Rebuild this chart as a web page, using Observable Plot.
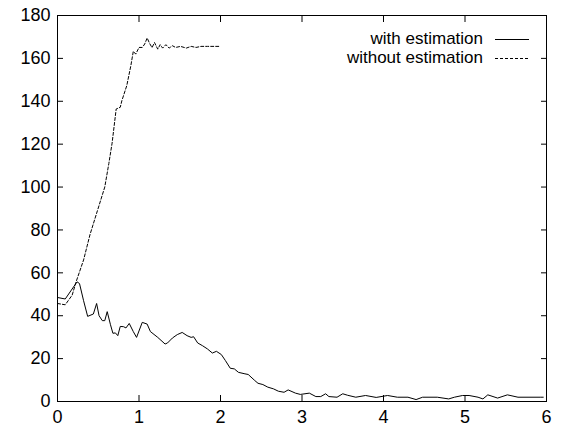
<!DOCTYPE html>
<html>
<head>
<meta charset="utf-8">
<script src="https://cdn.jsdelivr.net/npm/d3@7"></script>
<script src="https://cdn.jsdelivr.net/npm/@observablehq/plot@0.6"></script>
<style>
  html, body { margin: 0; padding: 0; background: #fff; }
  #wrap { position: relative; width: 565px; height: 434px; font-family: "Liberation Sans", Arial, Helvetica, sans-serif; }
  #legend { position: absolute; top: 29px; right: 36px; font-size: 17px; color: #000; }
  #legend .row { display: flex; align-items: center; justify-content: flex-end; height: 19px; line-height: 19px; }
  #legend svg { margin-left: 12px; display: block; }
</style>
</head>
<body>
<div id="wrap"></div>
<script>
// Series: "with estimation" (solid)
const withT = [
  0, 0.095, 0.24, 0.27, 0.32, 0.37, 0.44, 0.48, 0.51, 0.55,
  0.58, 0.61, 0.65, 0.68, 0.71, 0.74, 0.77, 0.81, 0.84, 0.88,
  0.93, 0.97, 1.04, 1.10, 1.14, 1.23, 1.32, 1.35, 1.41, 1.47,
  1.53, 1.59, 1.64, 1.67, 1.72, 1.78, 1.84, 1.90, 1.95, 2.01,
  2.06, 2.12, 2.17, 2.22, 2.30, 2.34, 2.42, 2.46, 2.52, 2.58,
  2.65, 2.71, 2.78, 2.83, 2.92, 2.98, 3.09, 3.17, 3.23, 3.29,
  3.33, 3.43, 3.50, 3.56, 3.66, 3.78, 3.91, 4.05, 4.17, 4.30,
  4.40, 4.48, 4.66, 4.80, 4.87, 4.97, 5.05, 5.16, 5.22, 5.28,
  5.40, 5.52, 5.65, 5.93, 5.96
];
const withV = [
  48.5, 47.8, 55.8, 55, 47, 39.7, 40.8, 45.7, 40, 37.7,
  37.7, 41.9, 35.8, 31.8, 32, 30.7, 35, 34.9, 34.3, 36.4,
  32.6, 29.9, 36.9, 36.1, 32.6, 29.9, 26.8, 27.3, 29.6, 31.2,
  32.2, 30.7, 29.9, 30.2, 27.3, 26, 24.5, 22.6, 23.4, 21.9,
  19.1, 15.5, 15.2, 13.6, 12.9, 12.6, 9.8, 8.5, 7.9, 6.7,
  5.9, 4.8, 4.3, 5.4, 3.9, 3.3, 3.9, 2.3, 2.3, 3.6,
  2.3, 2.0, 3.6, 2.9, 2.0, 2.8, 1.9, 2.8, 2.0, 2.0,
  0.9, 2.0, 2.0, 1.2, 2.0, 2.8, 2.8, 2.0, 1.2, 3.1,
  1.6, 3.1, 2.0, 2.0, 2.0
];
// Series: "without estimation" (dashed)
const withoutT = [
  0, 0.095, 0.18, 0.23, 0.32, 0.40, 0.49, 0.58, 0.63, 0.67,
  0.72, 0.77, 0.79, 0.85, 0.90, 0.93, 0.96, 1.00, 1.04, 1.07,
  1.10, 1.13, 1.16, 1.19, 1.23, 1.26, 1.29, 1.33, 1.37, 1.41,
  1.45, 1.51, 1.58, 1.64, 1.70, 1.76, 1.84, 1.98
];
const withoutV = [
  45.7, 45.1, 49.6, 56, 66, 78, 89, 100, 111, 120.5,
  136.4, 137.2, 140.3, 147.3, 156.6, 163.3, 162, 165.1, 165.1, 166.7,
  169.5, 167, 165, 167.4, 164.3, 166.4, 164.8, 166.4, 164.8, 165.9,
  165.1, 165.6, 164.8, 165.6, 165.1, 165.6, 165.6, 165.6
];
const xTicks = [0, 1, 2, 3, 4, 5, 6];
const yTicks = [0, 20, 40, 60, 80, 100, 120, 140, 160, 180];
const seriesNames = ["with estimation", "without estimation"];

const withData = withT.map((t, i) => ({t, v: withV[i]}));
const withoutData = withoutT.map((t, i) => ({t, v: withoutV[i]}));
const blank = () => "";

const chart = Plot.plot({
  width: 565,
  height: 434,
  marginLeft: 57,
  marginRight: 19,
  marginTop: 15,
  marginBottom: 33,
  x: {domain: [0, 6], label: null},
  y: {domain: [0, 180], label: null},
  style: {fontFamily: '"Liberation Sans", Arial, Helvetica, sans-serif', fontSize: "18px", color: "#000", background: "#fff", overflow: "visible"},
  marks: [
    Plot.axisX(xTicks, {anchor: "bottom", tickSize: -6, tickFormat: blank, label: null}),
    Plot.axisX(xTicks, {anchor: "top", tickSize: -6, tickFormat: blank, label: null}),
    Plot.axisY(yTicks, {anchor: "left", tickSize: -6, tickFormat: blank, label: null}),
    Plot.axisY(yTicks, {anchor: "right", tickSize: -6, tickFormat: blank, label: null}),
    Plot.axisX(xTicks, {anchor: "bottom", tickSize: 0, tickPadding: 9, label: null, fontSize: 18}),
    Plot.axisY(yTicks, {anchor: "left", tickSize: 0, tickPadding: 7, label: null, fontSize: 18}),
    Plot.line(withData, {x: "t", y: "v", stroke: "#000", strokeWidth: 1}),
    Plot.line(withoutData, {x: "t", y: "v", stroke: "#000", strokeWidth: 1, strokeDasharray: "3,2"}),
    Plot.frame({stroke: "#000", strokeWidth: 1})
  ]
});

const wrap = document.getElementById("wrap");
wrap.appendChild(chart);

const legend = document.createElement("div");
legend.id = "legend";
const dashes = [null, "3,2"];
seriesNames.forEach((name, i) => {
  const row = document.createElement("div");
  row.className = "row";
  const span = document.createElement("span");
  span.textContent = name;
  row.appendChild(span);
  const ns = "http://www.w3.org/2000/svg";
  const svg = document.createElementNS(ns, "svg");
  svg.setAttribute("width", "34");
  svg.setAttribute("height", "10");
  const line = document.createElementNS(ns, "line");
  line.setAttribute("x1", "0"); line.setAttribute("x2", "34");
  line.setAttribute("y1", "5.5"); line.setAttribute("y2", "5.5");
  line.setAttribute("stroke", "#000");
  line.setAttribute("stroke-width", "1");
  if (dashes[i]) line.setAttribute("stroke-dasharray", dashes[i]);
  svg.appendChild(line);
  row.appendChild(svg);
  legend.appendChild(row);
});
wrap.appendChild(legend);
</script>
</body>
</html>
